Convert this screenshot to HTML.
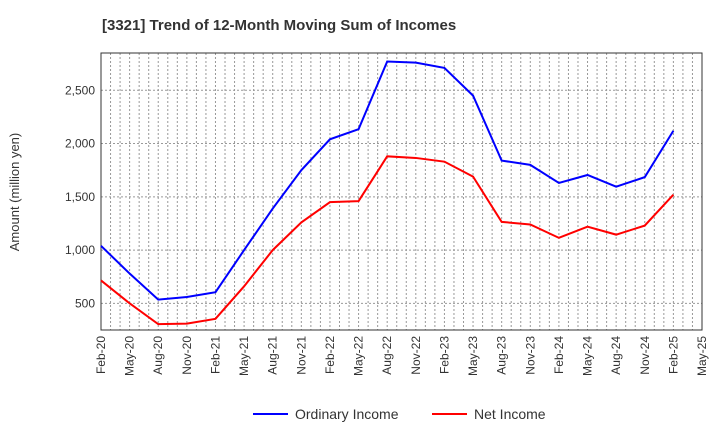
<!DOCTYPE html>
<html><head><meta charset="utf-8"><style>
body{margin:0;background:#fff;font-family:"Liberation Sans",Arial,sans-serif;}
svg text{font-family:"Liberation Sans",Arial,sans-serif;}
</style></head><body>
<svg id="chart" width="720" height="440" xmlns="http://www.w3.org/2000/svg">
<text x="102" y="30" font-size="15" font-weight="bold" fill="#333">[3321]  Trend of 12-Month Moving Sum of Incomes</text>
<text transform="translate(19,192) rotate(-90)" font-size="13" fill="#333" text-anchor="middle">Amount (million yen)</text>
<g id="grid"></g><g id="axes"></g><g id="series"></g>
<g>
<line x1="253" y1="414" x2="288" y2="414" stroke="#0000ff" stroke-width="2"/>
<text x="295" y="419" font-size="14" fill="#333">Ordinary Income</text>
<line x1="432" y1="414" x2="467" y2="414" stroke="#ff0000" stroke-width="2"/>
<text x="474" y="419" font-size="14" fill="#333">Net Income</text>
</g>
</svg>
<script>
const categories=["Feb-20","May-20","Aug-20","Nov-20","Feb-21","May-21","Aug-21","Nov-21","Feb-22","May-22","Aug-22","Nov-22","Feb-23","May-23","Aug-23","Nov-23","Feb-24","May-24","Aug-24","Nov-24","Feb-25","May-25"];
const ordinaryIncome=[1040,780,535,560,605,1000,1390,1750,2040,2135,2770,2760,2710,2450,1840,1800,1630,1705,1595,1685,2120];
const netIncome=[715,500,305,310,355,660,1000,1260,1450,1460,1880,1865,1830,1690,1265,1240,1115,1220,1145,1230,1520];
const yTicks=[500,1000,1500,2000,2500];
const yTickLabels=["500","1,000","1,500","2,000","2,500"];
const L=101,R=702,T=53,B=330,yMin=250,yMax=2850;
const step=(R-L)/21;
const x=i=>L+i*step;
const y=v=>B-(v-yMin)/(yMax-yMin)*(B-T);
const NS="http://www.w3.org/2000/svg";
function mk(tag,attrs,parent){const e=document.createElementNS(NS,tag);for(const k in attrs)e.setAttribute(k,attrs[k]);parent.appendChild(e);return e;}
const grid=document.getElementById('grid'),axes=document.getElementById('axes'),series=document.getElementById('series');
for(let m=1;m<63;m++){const gx=L+m*step/3;const l=mk('line',{x1:gx,x2:gx,y1:T,y2:B,stroke:'#999','stroke-width':1,'stroke-dasharray':'2,2'},grid);

}
yTicks.forEach((v,i)=>{const l=mk('line',{x1:L,x2:R,y1:y(v),y2:y(v),stroke:'#999','stroke-width':1,'stroke-dasharray':'2,2'},grid);


const t=mk('text',{x:L-6,y:y(v)+4,'font-size':12,fill:'#333','text-anchor':'end'},axes);t.textContent=yTickLabels[i];

});
const fr=mk('rect',{x:L,y:T,width:R-L,height:B-T,fill:'none',stroke:'#333','stroke-width':1},axes);


categories.forEach((c,i)=>{const t=mk('text',{transform:`translate(${x(i)+4},${B+6}) rotate(-90)`,'font-size':12,fill:'#333','text-anchor':'end'},axes);t.textContent=c;

});
function line(data,color,name){const p=mk('polyline',{points:data.map((v,i)=>x(i)+','+y(v)).join(' '),fill:'none',stroke:color,'stroke-width':2},series);

}
line(ordinaryIncome,'#0000ff','ordinary-income-line');
line(netIncome,'#ff0000','net-income-line');
</script>
</body></html>
